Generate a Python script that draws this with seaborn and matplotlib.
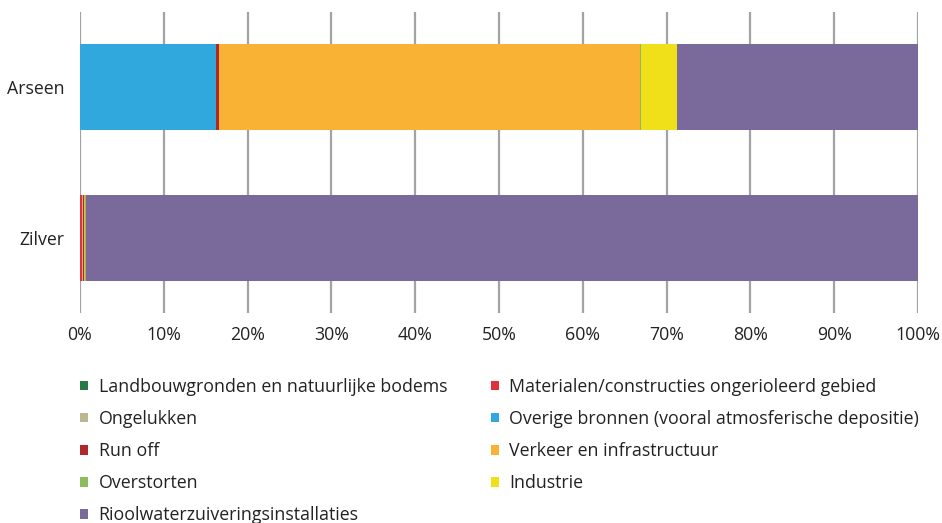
import numpy as np
import pandas as pd
import seaborn as sns
import matplotlib.pyplot as plt
from matplotlib.patches import Patch


# stoffen (y-as) en bronnen (stapelvolgorde), aandelen in %
stoffen = ['Arseen', 'Zilver']
bronnen = [
    'Landbouwgronden en natuurlijke bodems',
    'Materialen/constructies ongerioleerd gebied',
    'Ongelukken',
    'Overige bronnen (vooral atmosferische depositie)',
    'Run off',
    'Verkeer en infrastructuur',
    'Overstorten',
    'Industrie',
    'Rioolwaterzuiveringsinstallaties',
]
arseen = [0.0, 0.0, 0.0, 16.2, 0.4, 50.2, 0.15, 4.3, 28.75]
zilver = [0.0, 0.25, 0.05, 0.0, 0.2, 0.1, 0.1, 0.0, 99.3]
kleuren = ['#2a7a45', '#e0303a', '#bcb78f', '#30a8de', '#b0282c',
           '#f9b233', '#8cbd5a', '#f0e01a', '#7a6a9c']
x_ticks = np.arange(0, 101, 10)


sns.set_theme(style='white')
plt.rcParams['font.family'] = ['Open Sans', 'DejaVu Sans']

df = pd.DataFrame({'Arseen': arseen, 'Zilver': zilver}, index=bronnen)
cum = df.cumsum()

fig = plt.figure(figsize=(9.42, 5.23), dpi=100)
ax = fig.add_axes([80 / 942, 1 - 313 / 523, 838 / 942, 301 / 523])

# draw cumulative layers from the back so every segment shows
for i in reversed(range(len(bronnen))):
    layer = pd.DataFrame({'stof': stoffen, 'waarde': cum.iloc[i].values})
    sns.barplot(data=layer, x='waarde', y='stof', order=stoffen, color=kleuren[i],
                orient='h', width=0.573, linewidth=0, saturation=1, ax=ax)

ax.set_xlim(0, 100)
ax.set_ylim(1.5, -0.5)
ax.set_xticks(x_ticks)
ax.set_xticklabels([f'{t}%' for t in x_ticks])
ax.set_axisbelow(True)
ax.grid(axis='x', color='#a3a3a3', linewidth=1.6)
ax.grid(axis='y', visible=False)
for s in ax.spines.values():
    s.set_visible(False)
ax.tick_params(axis='x', length=0, pad=9, labelsize=12.8, labelcolor='#222222')
ax.tick_params(axis='y', length=0, pad=11, labelsize=12.8, labelcolor='#222222')
ax.set_xlabel('')
ax.set_ylabel('')

# legend: row-wise reading order in two columns
col1 = [0, 2, 4, 6, 8]
col2 = [1, 3, 5, 7]
handles = [Patch(facecolor=kleuren[i], edgecolor='none', label=bronnen[i]) for i in col1 + col2]
fig.legend(handles=handles, ncol=2, loc='upper left', bbox_to_anchor=(64 / 942, 1 - 362 / 523),
           frameon=False, fontsize=12.8, handlelength=0.45, handleheight=0.45, handletextpad=0.6,
           labelspacing=0.79, columnspacing=2.45, labelcolor='#222222')

fig.savefig('out.png', dpi=100)
